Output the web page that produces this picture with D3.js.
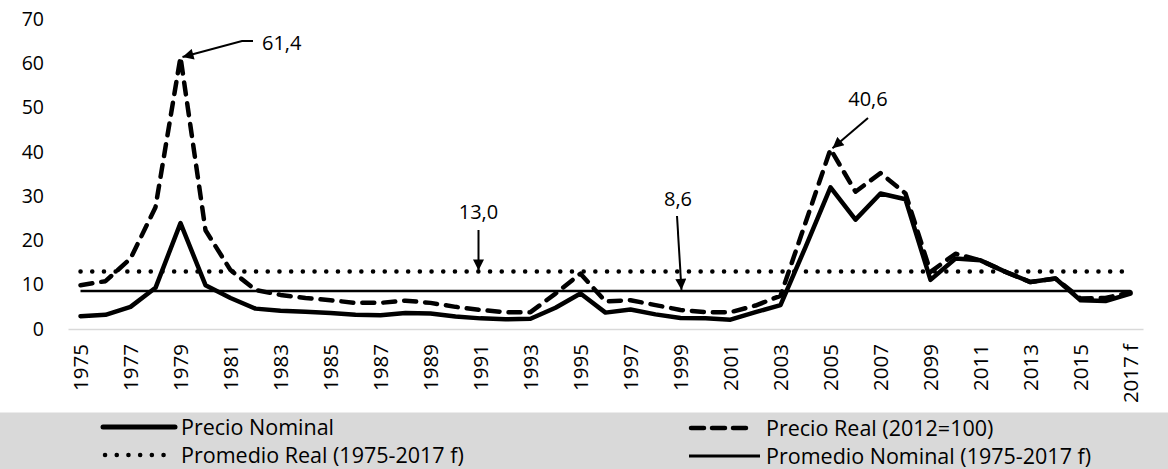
<!DOCTYPE html>
<html>
<head>
<meta charset="utf-8">
<script src="https://cdn.jsdelivr.net/npm/d3@7"></script>
<style>
  body { margin: 0; background: #fff; }
  svg { display: block; font-family: "Open Sans", sans-serif; }
</style>
</head>
<body>
<svg id="chart" width="1168" height="469"></svg>
<script>
// categories (note: the source labels 2009 as "2099")
const years = ["1975","1976","1977","1978","1979","1980","1981","1982","1983","1984",
  "1985","1986","1987","1988","1989","1990","1991","1992","1993","1994",
  "1995","1996","1997","1998","1999","2000","2001","2002","2003","2004",
  "2005","2006","2007","2008","2099","2010","2011","2012","2013","2014",
  "2015","2016","2017 f"];

const precioNominal = [2.9, 3.2, 5.0, 9.3, 23.9, 9.9, 7.0, 4.6, 4.1, 3.9,
  3.6, 3.2, 3.1, 3.6, 3.5, 2.8, 2.4, 2.2, 2.3, 4.8,
  8.0, 3.7, 4.4, 3.3, 2.5, 2.4, 2.1, 3.8, 5.4, 18.5,
  32.0, 24.7, 30.6, 29.3, 11.1, 15.9, 15.5, 12.9, 10.6, 11.4,
  6.5, 6.3, 8.0];

const precioReal = [9.9, 10.8, 15.9, 27.5, 61.4, 22.3, 13.3, 8.8, 7.7, 7.0,
  6.5, 5.9, 5.9, 6.4, 5.9, 5.0, 4.3, 3.8, 3.8, 8.0,
  12.5, 6.2, 6.5, 5.4, 4.3, 3.8, 3.8, 5.3, 7.5, 24.0,
  40.6, 31.0, 35.2, 30.6, 12.9, 17.0, 15.5, 12.9, 10.6, 11.4,
  6.9, 7.0, 8.3];

const promedioReal = 13.0;
const promedioNominal = 8.6;
const yTicks = [0, 10, 20, 30, 40, 50, 60, 70];
const xTickLabels = years.filter((d, i) => i % 2 === 0);

const legendItems = [
  {name: "Precio Nominal", style: "nominal"},
  {name: "Precio Real (2012=100)", style: "real"},
  {name: "Promedio Real (1975-2017 f)", style: "avgReal"},
  {name: "Promedio Nominal (1975-2017 f)", style: "avgNominal"}
];

const styles = {
  nominal:    {width: 4.5, dash: null, cap: "round"},
  real:       {width: 4.5, dash: "12,9", cap: "round"},
  avgReal:    {width: 4.5, dash: "0.1,11.6", cap: "round"},
  avgNominal: {width: 2.5, dash: null, cap: "butt"}
};

const svg = d3.select("#chart");

const x = d3.scalePoint().domain(years).range([68, 1143]).padding(0.5);
const y = d3.scaleLinear().domain([0, 70]).range([329, 19]);

// y axis labels only
const yAxis = svg.append("g")
  .attr("transform", "translate(44,0)")
  .call(d3.axisLeft(y).tickValues(yTicks).tickSize(0).tickPadding(0).tickFormat(d3.format("d")));
yAxis.select(".domain").remove();
yAxis.selectAll("text").attr("font-size", 19.5).attr("fill", "#000").attr("font-family", "Open Sans");

// x axis
const xAxis = svg.append("g")
  .attr("transform", "translate(0,329)")
  .call(d3.axisBottom(x).tickValues(xTickLabels).tickSize(0).tickSizeOuter(0));
xAxis.select(".domain").attr("stroke", "#d9d9d9").attr("stroke-width", 1.5);
xAxis.selectAll("text")
  .attr("font-size", 20.5).attr("fill", "#000").attr("font-family", "Open Sans")
  .attr("text-anchor", "end")
  .attr("transform", "translate(0,15) rotate(-90)")
  .attr("x", 0).attr("y", 0).attr("dy", "0.36em");

// average lines
const flat = v => years.map(() => v);
const line = d3.line().x((d, i) => x(years[i])).y(d => y(d));

function drawSeries(values, st) {
  const s = styles[st];
  svg.append("path")
    .datum(values)
    .attr("fill", "none")
    .attr("stroke", "#000")
    .attr("stroke-width", s.width)
    .attr("stroke-linecap", s.cap)
    .attr("stroke-linejoin", "round")
    .attr("stroke-dasharray", s.dash)
    .attr("d", line);
}

drawSeries(flat(promedioReal), "avgReal");
drawSeries(flat(promedioNominal), "avgNominal");
drawSeries(precioNominal, "nominal");
drawSeries(precioReal, "real");

// arrow marker
svg.append("defs").append("marker")
  .attr("id", "arrow")
  .attr("viewBox", "0 0 10 10")
  .attr("refX", 10).attr("refY", 5)
  .attr("markerWidth", 6.5).attr("markerHeight", 5.5)
  .attr("markerUnits", "strokeWidth")
  .attr("orient", "auto")
  .append("path").attr("d", "M0,0L10,5L0,10Z").attr("fill", "#000");

function annotate(pts, label, tx, ty, anchor) {
  svg.append("path")
    .attr("d", d3.line()(pts))
    .attr("fill", "none").attr("stroke", "#000").attr("stroke-width", 2)
    .attr("marker-end", "url(#arrow)");
  svg.append("text")
    .attr("x", tx).attr("y", ty).attr("dy", "0.35em")
    .attr("text-anchor", anchor)
    .attr("font-size", 20)
    .text(label);
}

const i79 = years.indexOf("1979");
const i05 = years.indexOf("2005");
annotate([[253, 41], [242, 41], [x(years[i79]) + 2, y(precioReal[i79])]],
  "61,4", 262, 43, "start");
annotate([[x("1991") - 2, 230], [x("1991") - 2, y(promedioReal) - 1]],
  "13,0", x("1991") - 2, 212, "middle");
annotate([[677, 216], [x("1999") + 1, y(promedioNominal) - 1]],
  "8,6", 678, 199, "middle");
annotate([[868, 118], [x(years[i05]) + 2, y(precioReal[i05]) - 1]],
  "40,6", 868, 99, "middle");

// legend
const lg = svg.append("g");
lg.append("rect").attr("x", 0).attr("y", 412.5).attr("width", 1168).attr("height", 57).attr("fill", "#d9d9d9");
const legPos = [
  {x1: 103, x2: 175, ty: 427, tx: 181},
  {x1: 691, x2: 753, ty: 428, tx: 766},
  {x1: 105, x2: 175, ty: 455, tx: 181},
  {x1: 689, x2: 760, ty: 456, tx: 766}
];
legendItems.forEach((item, i) => {
  const s = styles[item.style];
  const p = legPos[i];
  lg.append("line")
    .attr("x1", p.x1).attr("x2", p.x2).attr("y1", p.ty).attr("y2", p.ty)
    .attr("stroke", "#000")
    .attr("stroke-width", item.style === "avgNominal" ? 3 : (item.style === "nominal" ? 5 : 4.5))
    .attr("stroke-linecap", s.cap)
    .attr("stroke-dasharray", item.style === "real" ? "13,8" : s.dash);
  lg.append("text")
    .attr("x", p.tx).attr("y", p.ty).attr("dy", "0.35em")
    .attr("font-size", 21.5)
    .text(item.name);
});
</script>
</body>
</html>
